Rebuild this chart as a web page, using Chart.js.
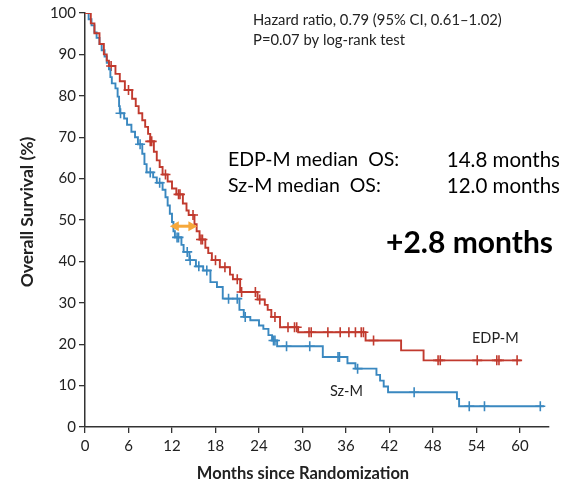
<!DOCTYPE html>
<html>
<head>
<meta charset="utf-8">
<script src="https://cdn.jsdelivr.net/npm/chart.js@4.4.1/dist/chart.umd.min.js"></script>
<style>
  body { margin: 0; background: #fff; }
  canvas { display: block; }
</style>
</head>
<body>
<canvas id="km" width="568" height="484"></canvas>
<script>
// ===============================
// DATA
// ===============================
const xTicks = [0, 6, 12, 18, 24, 30, 36, 42, 48, 54, 60];
const yTicks = [0, 10, 20, 30, 40, 50, 60, 70, 80, 90, 100];

// EDP-M: step times (months) and survival (%) after each step
const edpTimes = [0, 0.8, 1.3, 2.0, 2.6, 3.0, 3.3, 4.2, 4.8, 5.5, 6.5, 7.0, 7.4, 7.9, 8.3, 8.7, 9.0, 9.5, 9.9,
  10.3, 10.7, 11.4, 12.0, 12.6, 13.5, 14.0, 14.3, 15.1, 15.4, 15.8, 16.6, 17.0, 17.5, 18.6, 20.0, 20.4,
  21.4, 23.8, 24.8, 25.2, 25.7, 26.9, 29.4, 38.7, 43.6, 46.7, 60.1];
const edpSurv = [100, 97.5, 95.1, 92.5, 90.0, 88.5, 87.2, 85.3, 83.5, 81.4, 79.3, 77.5, 75.8, 74.1, 72.5, 70.8, 69.0, 66.5, 64.4,
  62.8, 61.0, 59.3, 57.6, 56.2, 54.0, 52.3, 51.2, 49.0, 47.3, 45.3, 43.3, 42.0, 40.3, 38.6, 36.8, 35.7,
  32.6, 30.8, 29.5, 28.3, 26.6, 24.1, 22.9, 20.9, 18.5, 16.1, 16.1];
const edpCensored = [3.6, 6.0, 9.0, 9.2, 11.1, 12.9, 13.1, 14.9, 16.0, 16.2, 18.0, 19.3, 21.0, 21.6, 23.5, 24.1,
  26.2, 28.0, 28.9, 29.2, 30.9, 31.2, 33.5, 35.2, 36.4, 37.3, 38.1, 38.4, 39.8, 48.7, 49.0, 54.1, 56.8, 57.1, 59.6];

// Sz-M
const szTimes = [0, 0.5, 0.9, 1.3, 1.6, 2.0, 2.3, 2.7, 3.0, 3.3, 3.5, 3.7, 4.2, 4.5, 4.7, 4.8, 5.4, 5.8, 6.4, 6.9,
  7.3, 7.9, 8.2, 8.5, 9.4, 9.9, 10.7, 11.1, 11.4, 11.7, 12.0, 12.2, 12.4, 13.3, 13.6, 14.4, 15.3, 16.3,
  17.3, 18.2, 19.0, 21.3, 21.9, 22.8, 24.0, 24.6, 25.3, 25.8, 26.5, 32.8, 36.2, 37.3, 40.2, 40.7, 41.2,
  41.8, 51.3, 51.6, 63.3];
const szSurv = [100, 98.5, 97.0, 95.3, 94.0, 92.5, 91.0, 89.5, 88.0, 86.4, 84.5, 83.0, 81.8, 79.8, 77.5, 75.8, 74.5, 73.0, 71.3, 70.0,
  68.3, 66.0, 63.5, 61.5, 60.3, 59.0, 57.3, 55.5, 53.5, 51.5, 49.5, 47.3, 45.8, 44.0, 42.3, 40.3, 38.8, 37.8,
  35.0, 33.8, 31.0, 28.3, 26.6, 25.8, 24.5, 23.7, 22.2, 20.9, 19.5, 16.9, 15.4, 14.1, 12.6, 11.2, 9.8,
  8.4, 6.8, 5.0, 5.0];
const szCensored = [4.9, 7.6, 9.0, 10.3, 12.7, 12.9, 14.1, 14.5, 15.7, 16.8, 19.8, 21.0, 22.1, 26.0, 26.2, 27.8, 31.0,
  34.9, 35.1, 37.6, 45.4, 53.0, 55.1, 62.8];

// median-difference arrow: [from month, to month, survival %]
const medianArrow = [11.7, 15.5, 48.5];

const RED = "#c13a2e";
const BLUE = "#3a88c0";
const ORANGE = "#f6a83c";

// ===============================
// HELPERS
// ===============================
function steps(times, surv) {
  return times.map((t, i) => ({ x: t, y: surv[i] }));
}

function survAt(times, surv, t) {
  let s = surv[0];
  for (let i = 0; i < times.length; i++) {
    if (times[i] <= t) s = surv[i];
  }
  return s;
}

function censorPoints(cens, times, surv) {
  return cens.map(t => ({ x: t, y: survAt(times, surv, t) }));
}

// ===============================
// TEXT + ARROW PLUGIN
// ===============================
const annotations = {
  id: "annotations",
  afterDatasetsDraw(chart) {
    const { ctx, scales } = chart;
    const x = scales.x, y = scales.y;
    ctx.save();

    // orange double arrow between medians
    const x1 = x.getPixelForValue(medianArrow[0]);
    const x2 = x.getPixelForValue(medianArrow[1]);
    const ay = y.getPixelForValue(medianArrow[2]);
    ctx.strokeStyle = ORANGE;
    ctx.fillStyle = ORANGE;
    ctx.lineWidth = 3;
    ctx.beginPath();
    ctx.moveTo(x1 + 6, ay);
    ctx.lineTo(x2 - 6, ay);
    ctx.stroke();
    ctx.beginPath();
    ctx.moveTo(x1, ay); ctx.lineTo(x1 + 9, ay - 5); ctx.lineTo(x1 + 9, ay + 5); ctx.closePath();
    ctx.moveTo(x2, ay); ctx.lineTo(x2 - 9, ay - 5); ctx.lineTo(x2 - 9, ay + 5); ctx.closePath();
    ctx.fill();

    ctx.fillStyle = "#222";
    ctx.textBaseline = "middle";
    ctx.textAlign = "left";
    ctx.font = "14.8px Lato";
    ctx.fillText("Hazard ratio, 0.79 (95% CI, 0.61\u20131.02)", 253, 20);
    ctx.fillText("P=0.07 by log-rank test", 253, 40);

    ctx.fillStyle = "#000";
    ctx.font = "19.5px Lato";
    ctx.fillText("EDP-M median  OS:", 228, 160);
    ctx.fillText("Sz-M median  OS:", 228, 186);
    ctx.textAlign = "right";
    ctx.font = "20.5px Lato";
    ctx.fillText("14.8 months", 560, 160);
    ctx.fillText("12.0 months", 560, 186);

    ctx.font = "bold 30px Lato";
    ctx.fillText("+2.8 months", 553, 243);

    ctx.fillStyle = "#222";
    ctx.textAlign = "left";
    ctx.font = "14.5px Lato";
    ctx.fillText("EDP-M", 472, 338);
    ctx.fillText("Sz-M", 330, 391);

    // axis titles
    ctx.font = "bold 16.5px Lato";
    ctx.textAlign = "center";
    ctx.fillText("Months since Randomization", 303, 474);
    ctx.font = "bold 17.5px Lato";
    ctx.translate(27, 212);
    ctx.rotate(-Math.PI / 2);
    ctx.fillText("Overall Survival (%)", 0, 0);

    ctx.restore();
  }
};

// ===============================
// CHART
// ===============================
const tickFont = { family: "Lato", size: 15 };

new Chart(document.getElementById("km"), {
  type: "scatter",
  data: {
    datasets: [
      { type: "line", data: steps(edpTimes, edpSurv), stepped: true, borderColor: RED, borderWidth: 1.9, pointRadius: 0, fill: false },
      { type: "line", data: steps(szTimes, szSurv), stepped: true, borderColor: BLUE, borderWidth: 1.9, pointRadius: 0, fill: false },
      { data: censorPoints(edpCensored, edpTimes, edpSurv), pointStyle: "cross", pointRadius: 5, borderColor: RED, borderWidth: 1.6 },
      { data: censorPoints(szCensored, szTimes, szSurv), pointStyle: "cross", pointRadius: 5, borderColor: BLUE, borderWidth: 1.6 },
    ],
  },
  options: {
    responsive: false,
    animation: false,
    layout: { padding: { left: 0, right: 19, top: 13, bottom: 0 } },
    plugins: { legend: { display: false }, tooltip: { enabled: false } },
    scales: {
      x: {
        type: "linear", min: 0, max: 64,
        afterFit(s) { s.height = 57; },
        afterBuildTicks(s) { s.ticks = xTicks.map(v => ({ value: v })); },
        grid: { drawOnChartArea: false, drawTicks: true, tickLength: 6, color: "#333", lineWidth: 1.3 },
        border: { color: "#333", width: 1.5 },
        ticks: { font: tickFont, color: "#222", padding: 4, maxRotation: 0 },
      },
      y: {
        min: 0, max: 100,
        afterFit(s) { s.width = 85; },
        afterBuildTicks(s) { s.ticks = yTicks.map(v => ({ value: v })); },
        grid: { drawOnChartArea: false, drawTicks: true, tickLength: 6, color: "#333", lineWidth: 1.3 },
        border: { color: "#333", width: 1.5 },
        ticks: { font: tickFont, color: "#222", padding: 3 },
      },
    },
  },
  plugins: [annotations],
});
</script>
</body>
</html>
